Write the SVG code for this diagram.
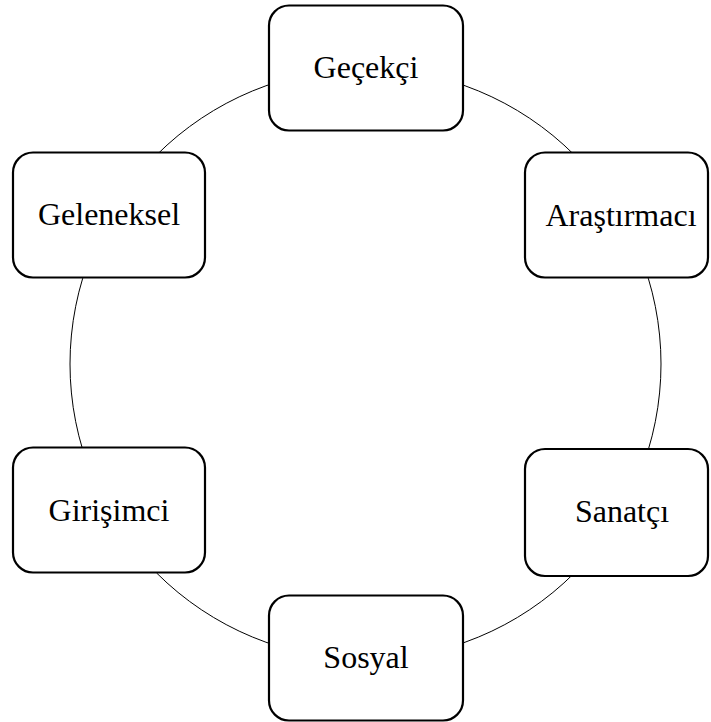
<svg xmlns="http://www.w3.org/2000/svg" width="711" height="722" viewBox="0 0 711 722">
<style>
.box{fill:#fff;stroke:#000;stroke-width:2.2}
.lbl{font-family:'Liberation Serif','Times New Roman',Times,'DejaVu Serif',serif;font-size:32px;fill:#000;text-anchor:middle}
.ring{fill:none;stroke:#000;stroke-width:1}
</style>
<rect width="711" height="722" fill="#fff"/>
<g id="connectors">
<circle class="ring" cx="365.5" cy="364" r="295.5"/>
</g>
<g id="gecekci">
<rect class="box" x="269" y="5.5" width="194" height="125" rx="20"/>
<text class="lbl" x="366" y="78">Geçekçi</text>
</g>
<g id="arastirmaci">
<rect class="box" x="525" y="152.5" width="183" height="125" rx="20"/>
<text class="lbl" x="621" y="226">Araştırmacı</text>
</g>
<g id="sanatci">
<rect class="box" x="525" y="449" width="183" height="127" rx="20"/>
<text class="lbl" x="622" y="522">Sanatçı</text>
</g>
<g id="sosyal">
<rect class="box" x="269" y="595.5" width="194" height="125" rx="20"/>
<text class="lbl" x="366" y="668">Sosyal</text>
</g>
<g id="girisimci">
<rect class="box" x="13" y="447.5" width="192" height="125" rx="20"/>
<text class="lbl" x="109" y="521">Girişimci</text>
</g>
<g id="geleneksel">
<rect class="box" x="13" y="152.5" width="192" height="125" rx="20"/>
<text class="lbl" x="109" y="225">Geleneksel</text>
</g>
</svg>
